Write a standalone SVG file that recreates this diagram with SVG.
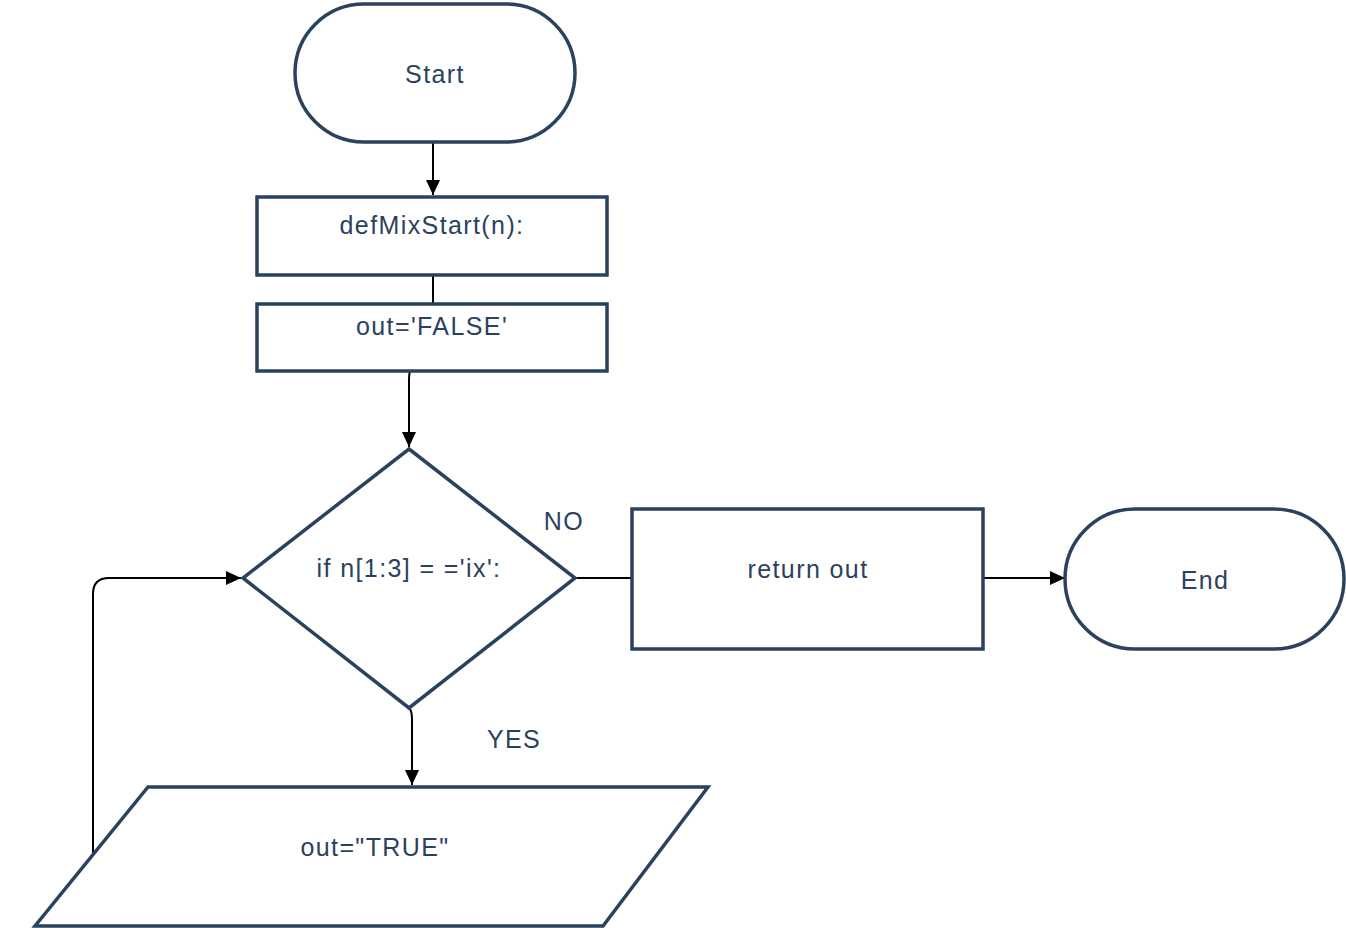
<svg xmlns="http://www.w3.org/2000/svg" width="1346" height="928" viewBox="0 0 1346 928">
<style>
.s{fill:#fff;stroke:#2b425f;stroke-width:3.5}
.t{font-family:"Liberation Sans",Arial,sans-serif;font-size:25px;letter-spacing:1.4px;fill:#2b425f;text-anchor:middle}
.c{fill:none;stroke:#000;stroke-width:2}
</style>
<defs>
<marker id="a" markerWidth="16" markerHeight="16" refX="15" refY="8" orient="auto" markerUnits="userSpaceOnUse" viewBox="0 0 16 16">
<path d="M0,1 L15,8 L0,15 Z" fill="#000"/>
</marker>
</defs>
<rect width="1346" height="928" fill="#fff"/>
<g id="connectors">
<path class="c" d="M433,143 L433,195" marker-end="url(#a)"/>
<path class="c" d="M433,276 L433,303"/>
<path class="c" d="M410,372 Q409,374 409,380 L409,447" marker-end="url(#a)"/>
<path class="c" d="M576,578 L632,578"/>
<path class="c" d="M984,578 L1065,578" marker-end="url(#a)"/>
<path class="c" d="M410,709 Q412,712 412,720 L412,785" marker-end="url(#a)"/>
<path class="c" d="M93,856 L93,594 Q93,578 109,578 L241,578" marker-end="url(#a)"/>
</g>
<g id="start">
<rect class="s" x="295" y="4" width="280" height="138" rx="69"/>
<text class="t" x="435" y="83">Start</text>
</g>
<g id="def">
<rect class="s" x="257" y="197" width="350" height="78"/>
<text class="t" x="432" y="234">defMixStart(n):</text>
</g>
<g id="init">
<rect class="s" x="257" y="304" width="350" height="67"/>
<text class="t" x="432" y="335">out='FALSE'</text>
</g>
<g id="decision">
<polygon class="s" points="409,449 575,578 409,708 243,578"/>
<text class="t" x="409" y="577">if n[1:3] = ='ix':</text>
</g>
<g id="ret">
<rect class="s" x="632" y="509" width="351" height="140"/>
<text class="t" x="808" y="578">return out</text>
</g>
<g id="end">
<rect class="s" x="1065" y="509" width="279" height="140" rx="70"/>
<text class="t" x="1205" y="589">End</text>
</g>
<g id="settrue">
<polygon class="s" points="148,787 708,787 603,926 35,926"/>
<text class="t" x="375" y="856">out="TRUE"</text>
</g>
<g id="labels">
<text class="t" x="564" y="530">NO</text>
<text class="t" x="514" y="748">YES</text>
</g>
</svg>
